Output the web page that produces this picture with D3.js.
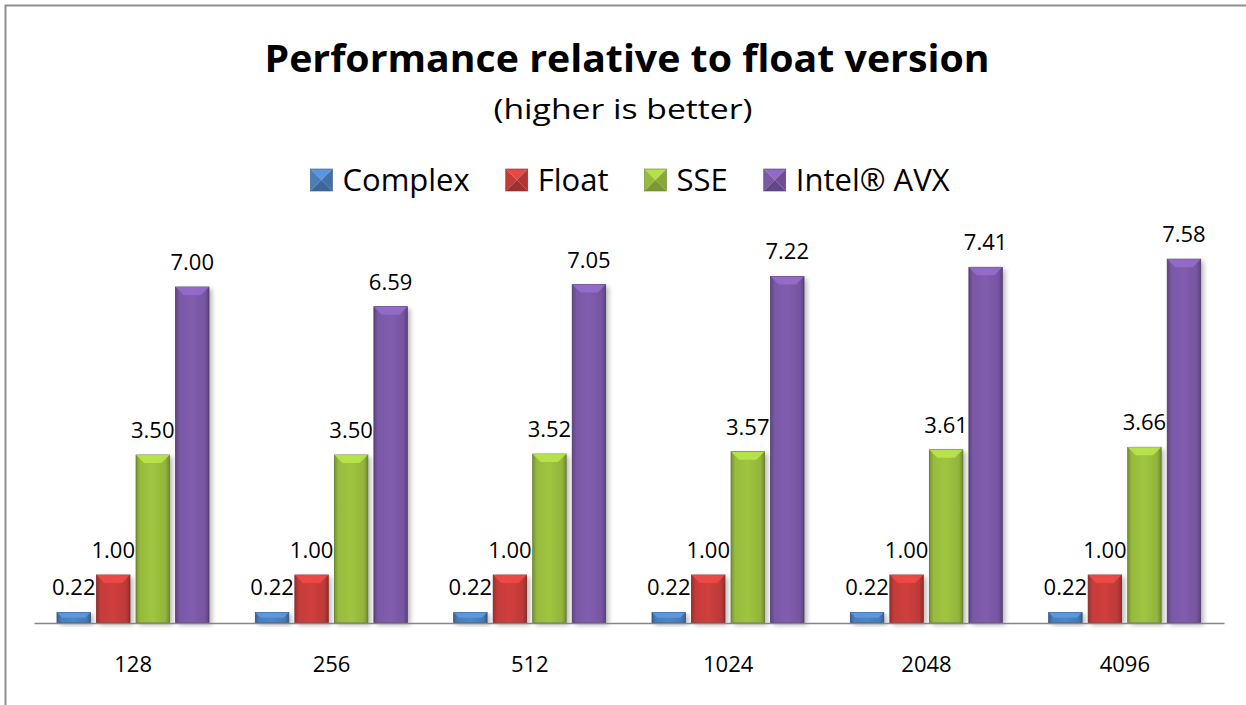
<!DOCTYPE html>
<html>
<head>
<meta charset="utf-8">
<style>
  body { margin: 0; background: #fff; }
  svg { display: block; font-family: "Open Sans", "Noto Sans", sans-serif; }
</style>
<script type="text/javascript" src="https://d3js.org/d3.v7.min.js"></script>
</head>
<body>
<svg width="1246" height="705"></svg>
<script>
    // chart data
    var categories = ["128", "256", "512", "1024", "2048", "4096"];
    var seriesNames = ["Complex", "Float", "SSE", "Intel\u00ae AVX"];
    var complexValues = [0.22, 0.22, 0.22, 0.22, 0.22, 0.22];
    var floatValues = [1.00, 1.00, 1.00, 1.00, 1.00, 1.00];
    var sseValues = [3.50, 3.50, 3.52, 3.57, 3.61, 3.66];
    var avxValues = [7.00, 6.59, 7.05, 7.22, 7.41, 7.58];
    var seriesColors = ["#4a7ebb", "#c43c3a", "#97bb3d", "#7a58a6"];

    var allSeries = [complexValues, floatValues, sseValues, avxValues];

    var svg = d3.select("svg");
    var defs = svg.append("defs");

    // outer frame (only top and left edges visible)
    svg.append("path")
        .attr("d", "M5.5,705 L5.5,5.5 L1246,5.5")
        .attr("fill", "none")
        .attr("stroke", "#8e8e8e")
        .attr("stroke-width", 2);

    // title
    svg.append("text")
        .attr("x", 627)
        .attr("y", 72)
        .attr("text-anchor", "middle")
        .attr("font-size", "37px")
        .attr("font-weight", "bold")
        .attr("textLength", 725)
        .attr("lengthAdjust", "spacingAndGlyphs")
        .text("Performance relative to float version");

    svg.append("text")
        .attr("x", 623)
        .attr("y", 119)
        .attr("text-anchor", "middle")
        .attr("font-size", "28px")
        .attr("textLength", 259)
        .attr("lengthAdjust", "spacingAndGlyphs")
        .text("(higher is better)");

    // scales
    var x0 = d3.scaleBand().domain(categories).range([34, 1224]);
    var x1 = d3.scaleBand().domain(d3.range(seriesNames.length))
        .range([23, 175]).paddingInner(0.154);
    var y = d3.scaleLinear().domain([0, 8]).range([623, 239]);

    // gradients and shadow filter
    var shadow = defs.append("filter").attr("id", "shadow")
        .attr("x", "-30%").attr("y", "-10%").attr("width", "160%").attr("height", "120%");
    shadow.append("feGaussianBlur").attr("stdDeviation", 2.5);

    seriesColors.forEach(function (c, i) {
        var base = d3.color(c);
        var g = defs.append("linearGradient").attr("id", "grad" + i)
            .attr("x1", "0%").attr("x2", "100%").attr("y1", "0%").attr("y2", "0%");
        g.append("stop").attr("offset", "0%").attr("stop-color", base.darker(0.7));
        g.append("stop").attr("offset", "12%").attr("stop-color", base);
        g.append("stop").attr("offset", "50%").attr("stop-color", base.brighter(0.15));
        g.append("stop").attr("offset", "88%").attr("stop-color", base.darker(0.1));
        g.append("stop").attr("offset", "100%").attr("stop-color", base.darker(0.8));
    });

    var groups = svg.selectAll(".grp")
        .data(categories)
        .enter().append("g")
        .attr("class", "grp")
        .attr("transform", function (d) { return "translate(" + x0(d) + ",0)"; });

    var bars = groups.selectAll(".bar")
        .data(function (d, ci) {
            return allSeries.map(function (vals, si) { return { s: si, value: vals[ci] }; });
        })
        .enter().append("g")
        .attr("class", "bar");

    // shadow
    bars.append("rect")
        .attr("x", function (d) { return x1(d.s) + 3; })
        .attr("y", function (d) { return y(d.value) + 2; })
        .attr("width", x1.bandwidth())
        .attr("height", function (d) { return y(0) - y(d.value); })
        .attr("fill", "#000")
        .attr("opacity", 0.28)
        .attr("filter", "url(#shadow)");

    bars.append("rect")
        .attr("x", function (d) { return x1(d.s); })
        .attr("y", function (d) { return y(d.value); })
        .attr("width", x1.bandwidth())
        .attr("height", function (d) { return y(0) - y(d.value); })
        .attr("fill", function (d) { return "url(#grad" + d.s + ")"; })
        .attr("stroke", function (d) { return d3.color(seriesColors[d.s]).darker(1.2); })
        .attr("stroke-width", 0.8);

    // top bevel
    bars.append("path")
        .attr("d", function (d) {
            var l = x1(d.s), r = l + x1.bandwidth(), t = y(d.value);
            var h = Math.min(8, (y(0) - t) / 2);
            return "M" + l + "," + t + "L" + r + "," + t + "L" + (r - h) + "," + (t + h) +
                "L" + (l + h) + "," + (t + h) + "Z";
        })
        .attr("fill", function (d) { return d3.color(seriesColors[d.s]).brighter(0.6); })
        .attr("opacity", 0.85);

    // value labels
    bars.append("text")
        .attr("x", function (d) { return x1(d.s) + x1.bandwidth() / 2; })
        .attr("y", function (d) { return y(d.value) - 17; })
        .attr("text-anchor", "middle")
        .attr("font-size", "22px")
        .attr("fill", "#000")
        .text(function (d) { return d.value.toFixed(2); });

    // x axis
    var xAxis = svg.append("g")
        .attr("transform", "translate(0," + y(0) + ")")
        .call(d3.axisBottom(x0).tickSize(0).tickPadding(33));
    xAxis.select(".domain").attr("stroke", "#868686").attr("stroke-width", 1.5);
    xAxis.selectAll("text")
        .attr("font-size", "22px")
        .attr("font-family", "Open Sans, Noto Sans, sans-serif")
        .attr("fill", "#000");

    // legend
    var legend = svg.append("g");
    var cursor = 0;
    seriesNames.forEach(function (name, i) {
        var it = legend.append("g");
        var s = 22;
        var c = d3.color(seriesColors[i]);
        var tri = [
            ["M0,0L" + s + ",0L" + s / 2 + "," + s / 2 + "Z", c.brighter(0.5)],
            ["M0,0L" + s / 2 + "," + s / 2 + "L0," + s + "Z", c],
            ["M" + s + ",0L" + s + "," + s + "L" + s / 2 + "," + s / 2 + "Z", c.darker(0.3)],
            ["M0," + s + "L" + s + "," + s + "L" + s / 2 + "," + s / 2 + "Z", c.darker(0.6)]
        ];
        tri.forEach(function (t) {
            it.append("path").attr("d", t[0]).attr("fill", t[1]);
        });
        it.append("rect").attr("width", s).attr("height", s).attr("fill", "none")
            .attr("stroke", c.darker(1)).attr("stroke-width", 0.6);
        var txt = it.append("text")
            .attr("x", 32)
            .attr("y", 22)
            .attr("font-size", "31px")
            .text(name);
        var w = 32 + txt.node().getComputedTextLength();
        it.attr("transform", "translate(" + cursor + ",169)");
        cursor += w + 36;
    });
    var totalW = cursor - 36;
    legend.attr("transform", "translate(" + (630 - totalW / 2) + ",0)");
</script>
</body>
</html>
